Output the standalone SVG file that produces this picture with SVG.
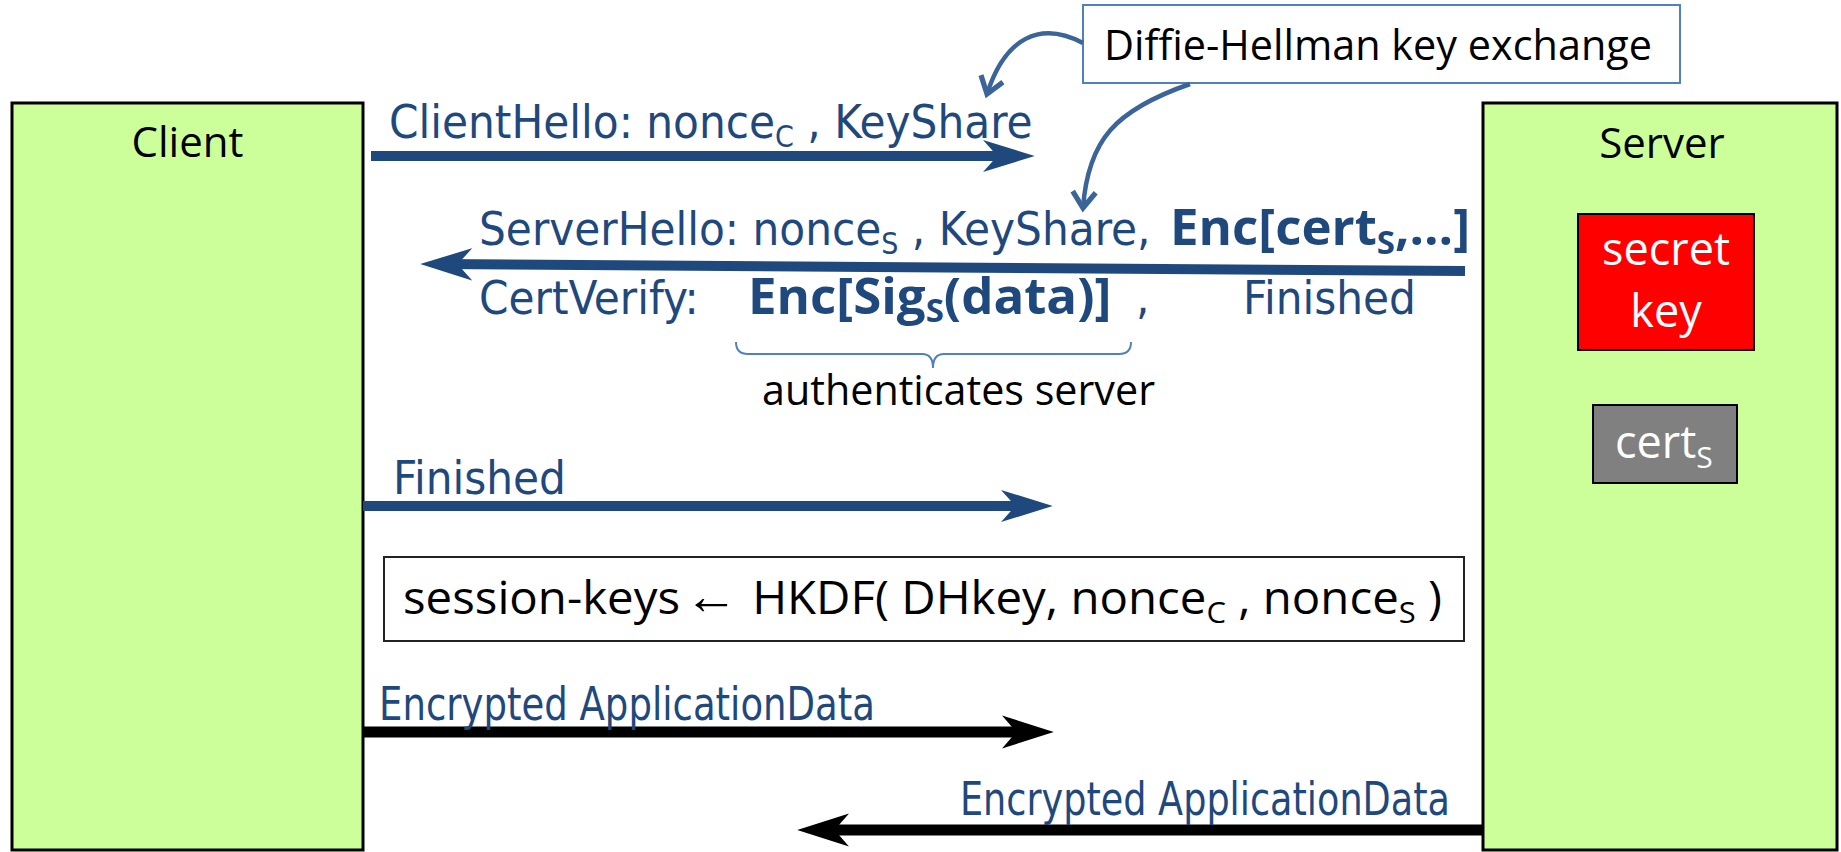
<svg xmlns="http://www.w3.org/2000/svg" width="1841" height="852" viewBox="0 0 1841 852">
<style>
.box{fill:#CCFF99;stroke:#000;stroke-width:3}
.lbl{font-family:"Open Sans","Liberation Sans",sans-serif;fill:#000}
.msg{font-family:"DejaVu Sans Condensed","DejaVu Sans","Liberation Sans",sans-serif;font-stretch:condensed;fill:#1F497D;font-size:47px}
.bold{font-family:"Open Sans","Liberation Sans",sans-serif;font-stretch:normal;font-weight:bold;fill:#1F497D}
.shaftB{stroke:#1F497D;stroke-width:10;fill:none}
.shaftK{stroke:#000;stroke-width:11;fill:none}
.dh{stroke:#3B6598;stroke-width:4.5;fill:none}
</style>
<defs>
<marker id="headB" markerUnits="userSpaceOnUse" markerWidth="54" markerHeight="36" viewBox="0 -17 52 34" refX="30" refY="0" orient="auto">
<path d="M0,-15.5 L50,0 L0,15.5 L14,0 Z" fill="#1F497D"/>
</marker>
<marker id="headK" markerUnits="userSpaceOnUse" markerWidth="54" markerHeight="36" viewBox="0 -17 52 34" refX="30" refY="0" orient="auto">
<path d="M0,-16 L50,0 L0,16 L14,0 Z" fill="#000"/>
</marker>
<marker id="headDH" markerUnits="userSpaceOnUse" markerWidth="30" markerHeight="30" viewBox="-16 -13 20 26" refX="0" refY="0" orient="auto">
<path d="M-14,-10 L0,0 L-14,10" fill="none" stroke="#3B6598" stroke-width="4.5" stroke-linejoin="miter"/>
</marker>
</defs>

<g id="client">
<rect class="box" x="12" y="103" width="351" height="747"/>
<text class="lbl" x="187.5" y="157" font-size="42" text-anchor="middle">Client</text>
</g>

<g id="server">
<rect class="box" x="1483" y="103" width="354" height="747"/>
<text class="lbl" x="1662" y="158" font-size="42" text-anchor="middle">Server</text>
</g>

<g id="secret-key">
<rect x="1578" y="214" width="176" height="136" fill="#FF0000" stroke="#000" stroke-width="2"/>
<text class="lbl" x="1666" y="265" font-size="45" text-anchor="middle" style="fill:#fff">secret</text>
<text class="lbl" x="1666" y="327" font-size="45" text-anchor="middle" style="fill:#fff">key</text>
</g>

<g id="cert">
<rect x="1593" y="405" width="144" height="78" fill="#808080" stroke="#000" stroke-width="2"/>
<text class="lbl" x="1615" y="458" font-size="45" style="fill:#fff">cert<tspan font-size="30" dy="10">S</tspan></text>
</g>

<g id="dh-note">
<rect x="1083" y="5" width="597" height="78" fill="#fff" stroke="#4F81BD" stroke-width="2"/>
<text class="lbl" x="1104" y="60" font-size="42" textLength="548" lengthAdjust="spacingAndGlyphs">Diffie-Hellman key exchange</text>
</g>

<g id="hkdf">
<rect x="384" y="557" width="1080" height="84" fill="#fff" stroke="#222" stroke-width="2"/>
<text class="lbl" x="403" y="614" font-size="46" textLength="1039" lengthAdjust="spacingAndGlyphs">session-keys<tspan font-size="52" dx="4">←</tspan><tspan dx="14">HKDF( DHkey, nonce</tspan><tspan font-size="30" dy="9">C</tspan><tspan dy="-9"> , nonce</tspan><tspan font-size="30" dy="9">S</tspan><tspan dy="-9"> )</tspan></text>
</g>

<g id="brace">
<path d="M736,342 Q736,354 748,354 L922,354 Q933,354 933,368 Q933,354 944,354 L1119,354 Q1131,354 1131,342" fill="none" stroke="#4F81BD" stroke-width="2"/>
<text class="lbl" x="762" y="405" font-size="42" textLength="393" lengthAdjust="spacingAndGlyphs">authenticates server</text>
</g>

<g id="connectors">
<line class="shaftB" x1="371" y1="156" x2="1014" y2="156" marker-end="url(#headB)"/>
<line class="shaftB" x1="1465" y1="271" x2="441" y2="264.1" marker-end="url(#headB)"/>
<line class="shaftB" x1="363" y1="506" x2="1032" y2="506" marker-end="url(#headB)"/>
<line class="shaftK" x1="363" y1="732" x2="1033" y2="732" marker-end="url(#headK)"/>
<line class="shaftK" x1="1482" y1="830" x2="818" y2="830" marker-end="url(#headK)"/>
<path class="dh" d="M1083,43 C1040,20 1005,38 987,94" marker-end="url(#headDH)"/>
<path class="dh" d="M1190,84 C1115,110 1088,140 1083,208" marker-end="url(#headDH)"/>
</g>

<g id="labels">
<text class="msg" x="389" y="138">ClientHello: nonce<tspan font-size="30" dy="9">C</tspan><tspan dy="-9"> , KeyShare</tspan></text>
<text class="msg" x="479" y="245">ServerHello: nonce<tspan font-size="30" dy="9">S</tspan><tspan dy="-9"> , KeyShare, </tspan><tspan class="bold" x="1170" font-size="51">Enc[cert</tspan><tspan class="bold" font-size="33" dy="9">S</tspan><tspan class="bold" font-size="51" dy="-9">,…]</tspan></text>
<text class="msg" x="479" y="314">CertVerify:<tspan class="bold" x="748" font-size="51">Enc[Sig</tspan><tspan class="bold" font-size="33" dy="8">S</tspan><tspan class="bold" font-size="51" dy="-8">(data)]</tspan><tspan x="1136">,</tspan><tspan x="1243">Finished</tspan></text>
<text class="msg" x="393" y="494">Finished</text>
<text class="msg" x="379" y="720" textLength="496" lengthAdjust="spacingAndGlyphs">Encrypted ApplicationData</text>
<text class="msg" x="960" y="815" textLength="490" lengthAdjust="spacingAndGlyphs">Encrypted ApplicationData</text>
</g>
</svg>
